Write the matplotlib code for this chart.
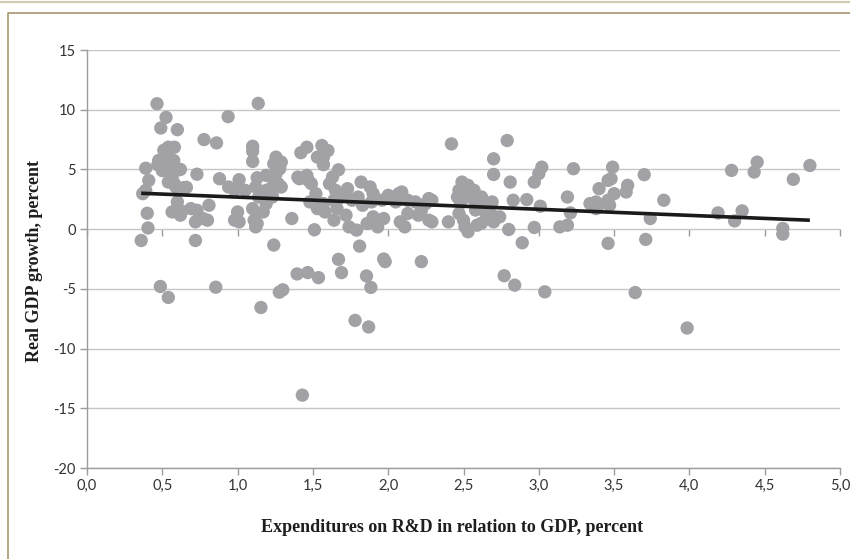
import numpy as np
import matplotlib
matplotlib.use("Agg")
import matplotlib.pyplot as plt
from matplotlib.ticker import FuncFormatter
from matplotlib.lines import Line2D

# ---- data ----
rd_share = [
    0.36, 0.37, 0.39, 0.39, 0.41, 0.40, 0.405, 0.465, 0.525, 0.49, 0.60, 0.51, 0.54, 0.58,
    0.476, 0.576, 0.52, 0.61, 0.54, 0.59, 0.64, 0.565, 0.60, 0.565, 0.62, 0.69, 0.73, 0.81,
    0.77, 0.72, 0.80, 0.72, 0.73, 0.777, 0.86, 0.937, 0.88, 0.94, 1.01, 0.98, 1.05, 1.0,
    0.98, 1.01, 0.487, 0.54, 0.855, 0.47, 0.50, 0.53, 0.56, 0.55, 0.62, 0.50, 0.58, 0.66, 0.63,
    1.137, 1.10, 1.10, 1.10, 1.13, 1.19, 1.255, 1.29, 1.24, 1.28, 1.255, 1.23, 1.19, 1.12,
    1.14, 1.23, 1.19, 1.10, 1.17, 1.11, 1.12, 1.13, 1.24, 1.27, 1.29, 1.23, 1.20, 1.23,
    1.36, 1.51, 1.155, 1.277, 1.30, 1.395, 1.466, 1.537, 1.43,
    1.42, 1.46, 1.56, 1.60, 1.57, 1.57, 1.53, 1.40, 1.47, 1.41, 1.46, 1.49, 1.52, 1.48,
    1.57, 1.58, 1.53,
    1.67, 1.63, 1.61, 1.65, 1.73, 1.69, 1.64, 1.82, 1.88, 1.90, 1.80, 1.76, 1.83, 1.89,
    1.96, 2.0, 2.07, 2.09, 2.05, 2.13, 2.18, 2.27, 2.25, 1.66, 1.72, 1.64, 1.74, 1.79,
    1.86, 1.92, 1.90, 1.97, 1.93, 2.08, 2.11, 2.13, 2.20, 2.27, 2.22, 1.81, 1.67, 1.69,
    1.97, 1.98, 2.22, 1.856, 1.885, 1.78, 1.87, 2.29, 2.29,
    2.42, 2.79, 2.70, 2.70, 2.81, 3.02, 3.0, 2.97, 3.23, 2.49, 2.53, 2.57, 2.47, 2.50,
    2.46, 2.56, 2.62, 2.69, 2.60, 2.65, 2.83, 2.92, 3.01, 3.19, 3.21, 3.34, 2.40, 2.47,
    2.50, 2.51, 2.53, 2.59, 2.69, 2.74, 2.70, 2.65, 2.80, 2.97, 2.89, 3.14, 3.19, 2.77,
    2.84, 3.04, 2.52, 2.55, 2.48, 2.58, 2.62,
    3.38, 3.38, 3.40, 3.39, 3.49, 3.48, 3.46, 3.50, 3.46, 3.47, 3.59, 3.58, 3.70, 3.83,
    3.74, 3.46, 3.71, 3.64, 3.985, 4.19, 4.30, 4.35, 4.28, 4.45, 4.43, 4.69, 4.80, 4.62, 4.62,
]
gdp_growth = [
    -0.95, 2.97, 3.25, 5.1, 4.08, 1.33, 0.1, 10.5, 9.36, 8.47, 8.33, 6.6, 6.86, 6.86,
    5.75, 5.75, 5.19, 4.97, 3.94, 3.53, 3.47, 4.36, 2.28, 1.44, 1.17, 1.72, 1.58, 2.0,
    0.89, 0.61, 0.75, -0.95, 4.6, 7.5, 7.22, 9.42, 4.22, 3.53, 4.14, 3.25, 3.25, 1.44,
    0.75, 0.61, -4.8, -5.72, -4.86, 5.4, 5.2, 6.2, 5.2, 4.6, 5.0, 4.9, 3.8, 3.5, 1.5,
    10.53, 6.94, 6.53, 5.67, 4.3, 4.5, 6.03, 5.61, 5.47, 5.06, 4.64, 3.53, 3.25, 3.53,
    2.69, 2.69, 2.14, 1.72, 1.44, 0.75, 0.19, 0.47, -1.33, 3.8, 3.53, 2.83, 3.25, 4.36,
    0.89, -0.05, -6.56, -5.28, -5.08, -3.75, -3.64, -4.06, -13.9,
    6.4, 6.86, 7.0, 6.58, 6.03, 5.4, 6.03, 4.36, 4.08, 4.22, 4.5, 3.8, 2.97, 2.28,
    2.14, 1.44, 1.72,
    4.97, 4.36, 3.8, 3.25, 3.39, 2.69, 2.42, 3.94, 3.53, 2.97, 2.69, 2.42, 2.0, 2.28,
    2.42, 2.83, 2.97, 3.11, 2.28, 2.42, 2.28, 2.56, 2.14, 1.72, 1.17, 0.75, 0.19, -0.08,
    0.47, 0.61, 1.03, 0.89, 0.19, 0.61, 0.19, 1.31, 1.17, 0.75, 1.58, -1.42, -2.53, -3.64,
    -2.5, -2.72, -2.72, -3.92, -4.88, -7.64, -8.19, 2.42, 0.61,
    7.14, 7.42, 5.89, 4.58, 3.94, 5.19, 4.64, 3.94, 5.06, 3.94, 3.67, 3.25, 3.25, 2.69,
    2.69, 2.56, 2.69, 2.28, 2.0, 1.72, 2.42, 2.47, 1.92, 2.69, 1.36, 2.14, 0.61, 1.31,
    0.75, 0.19, -0.22, 0.33, 1.17, 1.03, 0.61, 1.31, -0.03, 0.14, -1.14, 0.19, 0.33, -3.9,
    -4.69, -5.25, 3.4, 3.0, 2.2, 1.6, 0.5,
    2.28, 1.72, 3.39, 1.86, 5.19, 4.22, 4.08, 2.97, 2.42, 2.0, 3.67, 3.11, 4.56, 2.42,
    0.89, -1.19, -0.86, -5.31, -8.28, 1.36, 0.69, 1.53, 4.92, 5.61, 4.78, 4.17, 5.33, 0.06, -0.42,
]
x_ticks = [0.0, 0.5, 1.0, 1.5, 2.0, 2.5, 3.0, 3.5, 4.0, 4.5, 5.0]
y_ticks = [-20, -15, -10, -5, 0, 5, 10, 15]
x_label = "Expenditures on R&D in relation to GDP, percent"
y_label = "Real GDP growth, percent"

# ---- figure ----
fig = plt.figure(figsize=(8.5, 5.59), dpi=100)
ax = fig.add_axes([87 / 850, 1 - 468 / 559, (840 - 87) / 850, (468 - 50) / 559])

x = np.array(rd_share)
y = np.array(gdp_growth)
ax.scatter(x, y, s=92, color="#a2a2a6", edgecolors="none", zorder=3)

# linear trend line
slope, intercept = np.polyfit(x, y, 1)
xs = np.array([x.min(), x.max()])
ax.plot(xs, intercept + slope * xs, color="#1a1a1a", lw=2.6, zorder=4, solid_capstyle="butt")

ax.set_xlim(0, 5)
ax.set_ylim(-20, 15)
ax.set_xticks(x_ticks)
ax.set_yticks(y_ticks)
ax.xaxis.set_major_formatter(FuncFormatter(lambda v, p: f"{v:.1f}".replace(".", ",")))
ax.yaxis.set_major_formatter(FuncFormatter(lambda v, p: f"{int(v)}"))

ax.grid(axis="y", color="#c6c6c6", lw=1.0, zorder=0)
ax.set_axisbelow(True)
for s in ["top", "right"]:
    ax.spines[s].set_visible(False)
for s in ["left", "bottom"]:
    ax.spines[s].set_color("#9c9c9c")
    ax.spines[s].set_linewidth(1.0)
ax.tick_params(axis="both", colors="#9c9c9c", length=5, width=1.0,
               labelcolor="#333333", labelsize=10.5, pad=3)
for lab in ax.get_xticklabels() + ax.get_yticklabels():
    lab.set_family("Lato")

# tick marks on the zero line (horizontal axis crossing)
sec = ax.secondary_xaxis(20 / 35)
sec.set_xticks(x_ticks)
sec.tick_params(axis="x", colors="#9c9c9c", length=5, width=1.0, labelbottom=False,
                labeltop=False, direction="out")
sec.spines["bottom"].set_color("#9c9c9c")
sec.spines["top"].set_visible(False)
sec.xaxis.set_ticks_position("bottom")
sec.set_xticklabels([])

fig.text(452 / 850, 1 - 527 / 559, x_label, ha="center", va="center",
         fontsize=13, fontweight="bold", family="Liberation Serif", color="#1e1e1e")
fig.text(35 / 850, 1 - 261 / 559, y_label, ha="center", va="center", rotation=90,
         fontsize=13, fontweight="bold", family="Liberation Serif", color="#1e1e1e")

# decorative frame
fig.add_artist(Line2D([0, 1], [1 - 2 / 559, 1 - 2 / 559], transform=fig.transFigure,
                      color="#d2cab4", lw=1.6))
fig.add_artist(Line2D([8 / 850, 8 / 850, 1], [0, 1 - 13 / 559, 1 - 13 / 559],
                      transform=fig.transFigure, color="#a8966e", lw=1.2))

fig.savefig("out.png", dpi=100)
